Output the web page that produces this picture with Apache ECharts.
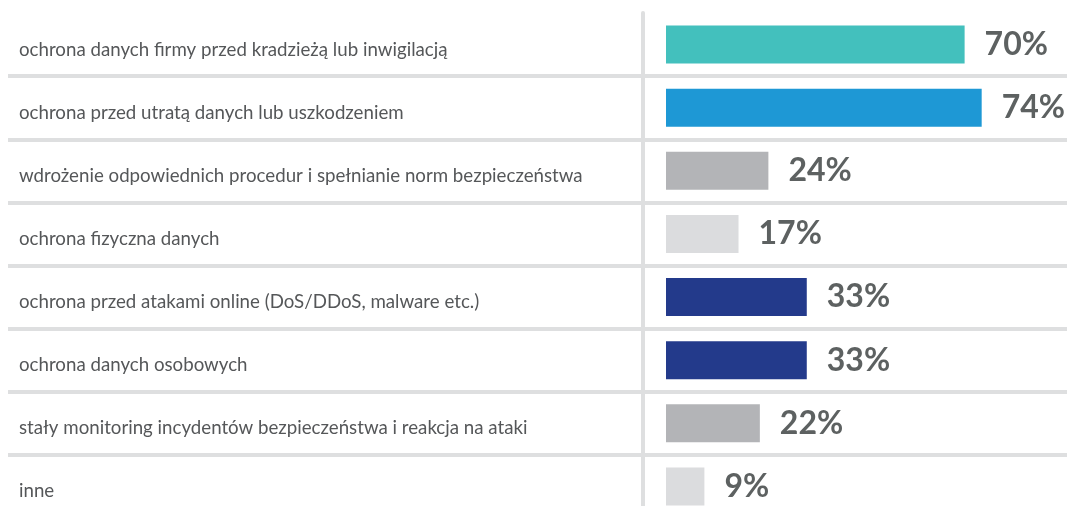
<!DOCTYPE html>
<html>
<head>
<meta charset="utf-8">
<script src="https://cdn.jsdelivr.net/npm/echarts@6/dist/echarts.min.js"></script>
<style>
html,body{margin:0;padding:0;background:#fff;overflow:hidden;}
#chart{width:1067px;height:520px;}
</style>
</head>
<body>
<div id="chart"></div>
<script>
// kategorie i wartosci (%)
var categories = [
    "ochrona danych firmy przed kradzieżą lub inwigilacją",
    "ochrona przed utratą danych lub uszkodzeniem",
    "wdrożenie odpowiednich procedur i spełnianie norm bezpieczeństwa",
    "ochrona fizyczna danych",
    "ochrona przed atakami online (DoS/DDoS, malware etc.)",
    "ochrona danych osobowych",
    "stały monitoring incydentów bezpieczeństwa i reakcja na ataki",
    "inne"
];
var values = [70, 74, 24, 17, 33, 33, 22, 9];
var barColors = ["#43c0bd", "#1e98d5", "#b3b4b7", "#dbdcde", "#233a8b", "#233a8b", "#b3b4b7", "#dbdcde"];

var chart = echarts.init(document.getElementById('chart'));

var data = [];
for (var i = 0; i < values.length; i++) {
    data.push({value: values[i], itemStyle: {color: barColors[i]}});
}

var option = {
    animation: false,
    grid: [
        {left: 666, top: 13, right: 0, height: 505},
        {left: 8, top: 13, right: 0, height: 505}
    ],
    xAxis: [
        {gridIndex: 0, type: 'value', min: 0, max: 94, show: false},
        {gridIndex: 1, type: 'value', min: 0, max: 100, show: false}
    ],
    yAxis: [
        {
            gridIndex: 0,
            type: 'category',
            inverse: true,
            data: categories,
            offset: 23,
            axisLine: {show: true, onZero: false, lineStyle: {color: '#dedfe0', width: 4}},
            axisTick: {show: false},
            axisLabel: {show: false},
            splitLine: {show: false}
        },
        {
            gridIndex: 1,
            type: 'category',
            inverse: true,
            data: categories,
            axisLine: {show: false},
            axisTick: {show: false},
            axisLabel: {
                inside: true,
                margin: 11,
                formatter: function (v) { return '{t|' + v + '}'; },
                rich: {
                    t: {
                        color: '#555759',
                        fontFamily: 'Lato',
                        fontSize: 18.7,
                        padding: [10, 0, 0, 0]
                    }
                }
            },
            splitLine: {
                show: true,
                showMinLine: false,
                showMaxLine: false,
                lineStyle: {color: '#dedfe0', width: 4}
            }
        }
    ],
    series: [
        {
            type: 'bar',
            xAxisIndex: 0,
            yAxisIndex: 0,
            data: data,
            barWidth: 38,
            label: {
                show: true,
                position: 'right',
                distance: 20,
                formatter: '{c}%',
                color: '#5d6161',
                fontFamily: 'Lato',
                fontWeight: 'bold',
                fontSize: 32
            }
        }
    ]
};
chart.setOption(option);
</script>
</body>
</html>
